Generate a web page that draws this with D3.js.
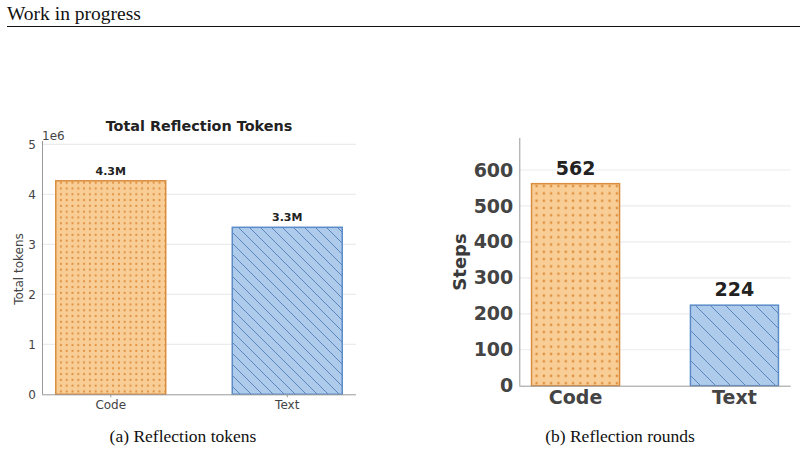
<!DOCTYPE html>
<html>
<head>
<meta charset="utf-8">
<script src="https://cdn.jsdelivr.net/npm/d3@7"></script>
<style>
  body { margin: 0; background: #fff; }
  svg { display: block; }
  .axis text { fill: #444; }
  .axis path, .axis line { stroke: #999; }
</style>
</head>
<body>
<svg id="fig" width="805" height="452"></svg>
<script>
// data
const categories = ['Code', 'Text'];
const tokenValues = [4.27e6, 3.34e6];
const tokenLabels = ['4.3M', '3.3M'];
const stepValues = [562, 224];
const stepLabels = ['562', '224'];
const tokenTicks = [0, 1, 2, 3, 4, 5];
const stepTicks = [0, 100, 200, 300, 400, 500, 600];

const fills = { Code: '#f8cd96', Text: '#aecbeb' };
const strokes = { Code: '#da8d3e', Text: '#5b8cc8' };

const svg = d3.select('#fig');

// page header
svg.append('text')
    .attr('x', 7).attr('y', 20)
    .attr('font-family', 'Liberation Serif')
    .attr('font-size', 19.5)
    .attr('fill', '#111')
    .text('Work in progress');
svg.append('line')
    .attr('x1', 7).attr('x2', 800)
    .attr('y1', 26.5).attr('y2', 26.5)
    .attr('stroke', '#111').attr('stroke-width', 1);

// patterns
const defs = svg.append('defs');
function dotPattern(id, size, r) {
    const p = defs.append('pattern').attr('id', id)
        .attr('patternUnits', 'userSpaceOnUse')
        .attr('width', size).attr('height', size);
    p.append('rect').attr('width', size).attr('height', size).attr('fill', fills.Code);
    p.append('circle').attr('cx', size / 2).attr('cy', size / 2).attr('r', r).attr('fill', '#e0913f');
}
function hatchPattern(id, size) {
    const p = defs.append('pattern').attr('id', id)
        .attr('patternUnits', 'userSpaceOnUse')
        .attr('width', size).attr('height', size);
    p.append('rect').attr('width', size).attr('height', size).attr('fill', fills.Text);
    p.append('path')
        .attr('d', `M0,0L${size},${size}M${-size},0L${size},${2 * size}M0,${-size}L${2 * size},${size}`)
        .attr('stroke', '#5a85bd').attr('stroke-width', 1);
}
dotPattern('dotsA', 5.8, 1.1);
dotPattern('dotsB', 7.3, 1.3);
hatchPattern('hatchA', 11);
hatchPattern('hatchB', 15);

function drawChart(cfg) {
    const g = svg.append('g');

    const x = d3.scaleBand()
        .domain(categories)
        .range([cfg.left, cfg.right])
        .paddingInner(cfg.padIn)
        .paddingOuter(cfg.padOut);
    const y = d3.scaleLinear()
        .domain(cfg.yDomain)
        .range([cfg.bottom, cfg.top]);

    // grid
    g.append('g').selectAll('line')
        .data(cfg.ticks.filter(t => t > 0))
        .join('line')
        .attr('x1', cfg.left).attr('x2', cfg.right)
        .attr('y1', d => y(d * cfg.tickScale)).attr('y2', d => y(d * cfg.tickScale))
        .attr('stroke', '#ececf0').attr('stroke-width', 1.2);

    // bars
    g.selectAll('.bar')
        .data(categories)
        .join('rect')
        .attr('class', 'bar')
        .attr('x', d => x(d))
        .attr('width', x.bandwidth())
        .attr('y', (d, i) => y(cfg.values[i]))
        .attr('height', (d, i) => cfg.bottom - y(cfg.values[i]))
        .attr('fill', d => d === 'Code' ? `url(#${cfg.dots})` : `url(#${cfg.hatch})`)
        .attr('stroke', d => strokes[d])
        .attr('stroke-width', 1.5);

    // value labels
    g.selectAll('.val')
        .data(categories)
        .join('text')
        .attr('class', 'val')
        .attr('x', d => x(d) + x.bandwidth() / 2)
        .attr('y', (d, i) => y(cfg.values[i]) - cfg.labelGap)
        .attr('text-anchor', 'middle')
        .attr('font-family', 'DejaVu Sans')
        .attr('font-weight', 'bold')
        .attr('font-size', cfg.labelSize)
        .attr('fill', '#222')
        .text((d, i) => cfg.labels[i]);

    // axes
    const yAxis = d3.axisLeft(y)
        .tickValues(cfg.ticks.map(t => t * cfg.tickScale))
        .tickFormat((d, i) => cfg.ticks[i])
        .tickSize(0).tickPadding(cfg.tickPad);
    const yg = g.append('g').attr('class', 'axis')
        .attr('transform', `translate(${cfg.left},0)`)
        .call(yAxis);
    yg.select('.domain').attr('d', `M0.5,${cfg.spineTop}V${cfg.bottom}`);

    const xAxis = d3.axisBottom(x).tickSize(cfg.xTick).tickPadding(cfg.xPad);
    const xg = g.append('g').attr('class', 'axis')
        .attr('transform', `translate(0,${cfg.bottom})`)
        .call(xAxis);
    xg.select('.domain').attr('d', `M${cfg.left},0.5H${cfg.right}`);

    g.selectAll('.axis text')
        .attr('font-family', 'DejaVu Sans')
        .attr('font-size', cfg.tickSize)
        .attr('font-weight', cfg.tickWeight)
        .attr('fill', cfg.tickColor);

    // y title
    g.append('text')
        .attr('transform', `translate(${cfg.yTitleX},${cfg.yTitleY}) rotate(-90)`)
        .attr('text-anchor', 'middle')
        .attr('font-family', 'DejaVu Sans')
        .attr('font-size', cfg.yTitleSize)
        .attr('font-weight', cfg.tickWeight)
        .attr('fill', cfg.tickColor)
        .text(cfg.yTitle);

    // caption
    svg.append('text')
        .attr('x', cfg.captionX).attr('y', 442)
        .attr('text-anchor', 'middle')
        .attr('font-family', 'Liberation Serif')
        .attr('font-size', 17.5)
        .attr('fill', '#111')
        .text(cfg.caption);

    return { g, x, y };
}

const left = drawChart({
    left: 42, right: 356, top: 144.3, bottom: 394.3, spineTop: 141,
    padIn: 0.377, padOut: 0.078,
    yDomain: [0, 5e6], ticks: tokenTicks, tickScale: 1e6,
    values: tokenValues, labels: tokenLabels,
    dots: 'dotsA', hatch: 'hatchA',
    labelSize: 11, labelGap: 6,
    tickSize: 12, tickWeight: 'normal', tickColor: '#444', tickPad: 6,
    xTick: 3, xPad: 3,
    yTitle: 'Total tokens', yTitleX: 23, yTitleY: 269, yTitleSize: 12,
    caption: '(a) Reflection tokens', captionX: 183
});

left.g.append('text')
    .attr('x', 199).attr('y', 131)
    .attr('text-anchor', 'middle')
    .attr('font-family', 'DejaVu Sans')
    .attr('font-weight', 'bold')
    .attr('font-size', 14.4)
    .attr('fill', '#222')
    .text('Total Reflection Tokens');
left.g.append('text')
    .attr('x', 42).attr('y', 140)
    .attr('font-family', 'DejaVu Sans')
    .attr('font-size', 12)
    .attr('fill', '#444')
    .text('1e6');

drawChart({
    left: 519.3, right: 790.7, top: 170, bottom: 385.7, spineTop: 138,
    padIn: 0.446, padOut: 0.077,
    yDomain: [0, 600], ticks: stepTicks, tickScale: 1,
    values: stepValues, labels: stepLabels,
    dots: 'dotsB', hatch: 'hatchB',
    labelSize: 19, labelGap: 9,
    tickSize: 19, tickWeight: 'bold', tickColor: '#3a3a3a', tickPad: 6,
    xTick: 0, xPad: 5,
    yTitle: 'Steps', yTitleX: 466, yTitleY: 262, yTitleSize: 18,
    caption: '(b) Reflection rounds', captionX: 620
});
</script>
</body>
</html>
